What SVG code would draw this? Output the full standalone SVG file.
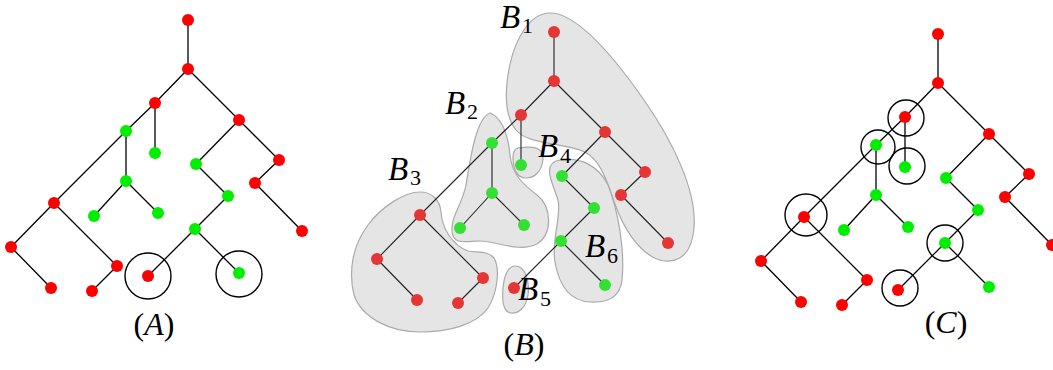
<svg xmlns="http://www.w3.org/2000/svg" width="1053" height="370" viewBox="0 0 1053 370">
<defs>
<style>
.e line{stroke:#000;stroke-width:1.3;stroke-linecap:round}
.eb line{stroke:#222;stroke-width:1.1;stroke-linecap:round}
.r{fill:#ff0000}
.g{fill:#00ee00}
.rb{fill:#e53535}
.gb{fill:#35e035}
.ring{fill:none;stroke:#000;stroke-width:1.4}
.blob{fill:#e5e5e5;stroke:#aaaaaa;stroke-width:1.2}
.lbl{font-family:"Liberation Serif","Times New Roman",serif;font-size:32px;fill:#000}
.bl{font-size:33px}
.it{font-style:italic}
.sub{font-size:22px;font-style:normal}
</style>
</defs>
<rect width="1053" height="370" fill="#fff"/>

<!-- Panel B blobs -->
<g id="blobs">
<path id="blob-B1" class="blob" d="M550,13 C578,13 614,57 644,100 C674,143 697,192 694,228 C692,250 683,262 665,261 C645,259 628,236 618,212 C608,186 603,162 585,152 C562,142 528,145 516,130 C504,115 505,88 510,64 C516,38 530,13 550,13 Z"/>
<path id="blob-B2" class="blob" d="M490,113 C502,118 508,135 510,155 C512,175 524,185 537,195 C552,207 553,234 537,244 C518,253 497,241 480,241 C467,241 453,246 452,231 C451,216 462,205 466,185 C470,160 476,118 490,113 Z"/>
<path id="blob-B3" class="blob" d="M420,192 C432,192 440,200 441,212 C442,228 452,245 468,251 C478,253 487,250 494,258 C500,268 498,292 488,308 C476,325 448,332 420,332 C390,332 362,318 354,295 C348,270 353,245 368,225 C382,206 405,192 420,192 Z"/>
<path id="blob-B4" class="blob" d="M518,148 C530,146 544,146 543,159 C542,171 535,178 526,178 C516,178 513,167 513,158 C513,152 514,149 518,148 Z"/>
<path id="blob-B5" class="blob" d="M515,266 C525,266 530,280 528,295 C526,308 518,314 511,313 C503,312 502,300 503,288 C504,276 508,266 515,266 Z"/>
<path id="blob-B6" class="blob" d="M560,160 C580,157 598,165 608,185 C618,210 625,250 622,280 C620,298 606,303 590,302 C570,301 559,285 555,262 C551,240 562,215 558,200 C554,186 540,163 560,160 Z"/>
</g>

<!-- Panel A -->
<g id="panelA">
<g id="edgesA" class="e">
<line x1="188" y1="20" x2="188" y2="69"/><line x1="188" y1="69" x2="155" y2="103"/><line x1="188" y1="69" x2="239" y2="120"/>
<line x1="155" y1="103" x2="126" y2="131"/><line x1="155" y1="103" x2="155" y2="153"/><line x1="126" y1="131" x2="126" y2="181"/>
<line x1="126" y1="131" x2="54" y2="203"/><line x1="126" y1="181" x2="94" y2="216"/><line x1="126" y1="181" x2="158" y2="213"/>
<line x1="54" y1="203" x2="11" y2="247"/><line x1="54" y1="203" x2="117" y2="266"/><line x1="11" y1="247" x2="51" y2="288"/>
<line x1="117" y1="266" x2="92" y2="291"/><line x1="239" y1="120" x2="196" y2="164"/><line x1="239" y1="120" x2="279" y2="160"/>
<line x1="196" y1="164" x2="228" y2="196"/><line x1="279" y1="160" x2="255" y2="183"/><line x1="255" y1="183" x2="302" y2="231"/>
<line x1="228" y1="196" x2="195" y2="229"/><line x1="195" y1="229" x2="148" y2="276"/><line x1="195" y1="229" x2="239" y2="273"/>
</g>
<g id="a1"><circle class="r" cx="188" cy="20" r="6"/></g>
<g id="a2"><circle class="r" cx="188" cy="69" r="6"/></g>
<g id="a3"><circle class="r" cx="155" cy="103" r="6"/></g>
<g id="a4"><circle class="g" cx="126" cy="131" r="6"/></g>
<g id="a5"><circle class="g" cx="155" cy="153" r="6"/></g>
<g id="a6"><circle class="r" cx="239" cy="120" r="6"/></g>
<g id="a7"><circle class="g" cx="196" cy="164" r="6"/></g>
<g id="a8"><circle class="r" cx="279" cy="160" r="6"/></g>
<g id="a9"><circle class="r" cx="255" cy="183" r="6"/></g>
<g id="a10"><circle class="g" cx="126" cy="181" r="6"/></g>
<g id="a11"><circle class="g" cx="228" cy="196" r="6"/></g>
<g id="a12"><circle class="r" cx="54" cy="203" r="6"/></g>
<g id="a13"><circle class="g" cx="94" cy="216" r="6"/></g>
<g id="a14"><circle class="g" cx="158" cy="213" r="6"/></g>
<g id="a15"><circle class="r" cx="302" cy="231" r="6"/></g>
<g id="a16"><circle class="g" cx="195" cy="229" r="6"/></g>
<g id="a17"><circle class="r" cx="11" cy="247" r="6"/></g>
<g id="a18"><circle class="r" cx="51" cy="288" r="6"/></g>
<g id="a19"><circle class="r" cx="117" cy="266" r="6"/></g>
<g id="a20"><circle class="r" cx="92" cy="291" r="6"/></g>
<g id="a21"><circle class="r" cx="148" cy="276" r="6"/><circle class="ring" cx="148" cy="276" r="23"/></g>
<g id="a22"><circle class="g" cx="239" cy="273" r="6"/><circle class="ring" cx="239" cy="274" r="23"/></g>
<text class="lbl" x="154" y="335" text-anchor="middle">(<tspan class="it">A</tspan>)</text>
</g>

<!-- Panel B -->
<g id="panelB">
<g id="edgesB" class="eb">
<line x1="554" y1="32" x2="554" y2="81"/><line x1="554" y1="81" x2="521" y2="115"/><line x1="554" y1="81" x2="605" y2="132"/>
<line x1="521" y1="115" x2="492" y2="143"/><line x1="521" y1="115" x2="521" y2="165"/><line x1="492" y1="143" x2="492" y2="193"/>
<line x1="492" y1="143" x2="420" y2="215"/><line x1="492" y1="193" x2="460" y2="228"/><line x1="492" y1="193" x2="524" y2="225"/>
<line x1="420" y1="215" x2="377" y2="259"/><line x1="420" y1="215" x2="483" y2="278"/><line x1="377" y1="259" x2="417" y2="300"/>
<line x1="483" y1="278" x2="458" y2="303"/><line x1="605" y1="132" x2="562" y2="176"/><line x1="605" y1="132" x2="645" y2="172"/>
<line x1="562" y1="176" x2="594" y2="208"/><line x1="645" y1="172" x2="621" y2="195"/><line x1="621" y1="195" x2="668" y2="243"/>
<line x1="594" y1="208" x2="561" y2="241"/><line x1="561" y1="241" x2="514" y2="288"/><line x1="561" y1="241" x2="605" y2="285"/>
</g>
<g id="b1"><circle class="rb" cx="554" cy="32" r="6"/></g>
<g id="b2"><circle class="rb" cx="554" cy="81" r="6"/></g>
<g id="b3"><circle class="rb" cx="521" cy="115" r="6"/></g>
<g id="b4"><circle class="gb" cx="492" cy="143" r="6"/></g>
<g id="b5"><circle class="gb" cx="521" cy="165" r="6"/></g>
<g id="b6"><circle class="rb" cx="605" cy="132" r="6"/></g>
<g id="b7"><circle class="gb" cx="562" cy="176" r="6"/></g>
<g id="b8"><circle class="rb" cx="645" cy="172" r="6"/></g>
<g id="b9"><circle class="rb" cx="621" cy="195" r="6"/></g>
<g id="b10"><circle class="gb" cx="492" cy="193" r="6"/></g>
<g id="b11"><circle class="gb" cx="594" cy="208" r="6"/></g>
<g id="b12"><circle class="rb" cx="420" cy="215" r="6"/></g>
<g id="b13"><circle class="gb" cx="460" cy="228" r="6"/></g>
<g id="b14"><circle class="gb" cx="524" cy="225" r="6"/></g>
<g id="b15"><circle class="rb" cx="668" cy="243" r="6"/></g>
<g id="b16"><circle class="gb" cx="561" cy="241" r="6"/></g>
<g id="b17"><circle class="rb" cx="377" cy="259" r="6"/></g>
<g id="b18"><circle class="rb" cx="417" cy="300" r="6"/></g>
<g id="b19"><circle class="rb" cx="483" cy="278" r="6"/></g>
<g id="b20"><circle class="rb" cx="458" cy="303" r="6"/></g>
<g id="b21"><circle class="rb" cx="514" cy="288" r="6"/></g>
<g id="b22"><circle class="gb" cx="605" cy="285" r="6"/></g>
<g id="labelsB">
<text class="lbl bl it" x="500" y="28">B<tspan class="sub" x="522" y="33">1</tspan></text>
<text class="lbl bl it" x="445" y="114">B<tspan class="sub" x="467" y="119">2</tspan></text>
<text class="lbl bl it" x="388" y="180">B<tspan class="sub" x="410" y="185">3</tspan></text>
<text class="lbl bl it" x="538" y="157">B<tspan class="sub" x="560" y="163">4</tspan></text>
<text class="lbl bl it" x="518" y="300">B<tspan class="sub" x="540" y="306">5</tspan></text>
<text class="lbl bl it" x="585" y="257">B<tspan class="sub" x="607" y="263">6</tspan></text>
</g>
<text class="lbl" x="524" y="355" text-anchor="middle">(<tspan class="it">B</tspan>)</text>
</g>

<!-- Panel C -->
<g id="panelC">
<g id="edgesC" class="e">
<line x1="938" y1="34" x2="938" y2="83"/><line x1="938" y1="83" x2="905" y2="117"/><line x1="938" y1="83" x2="989" y2="134"/>
<line x1="905" y1="117" x2="876" y2="145"/><line x1="905" y1="117" x2="905" y2="167"/><line x1="876" y1="145" x2="876" y2="195"/>
<line x1="876" y1="145" x2="804" y2="217"/><line x1="876" y1="195" x2="844" y2="230"/><line x1="876" y1="195" x2="908" y2="227"/>
<line x1="804" y1="217" x2="761" y2="261"/><line x1="804" y1="217" x2="867" y2="280"/><line x1="761" y1="261" x2="801" y2="302"/>
<line x1="867" y1="280" x2="842" y2="305"/><line x1="989" y1="134" x2="946" y2="178"/><line x1="989" y1="134" x2="1029" y2="174"/>
<line x1="946" y1="178" x2="978" y2="210"/><line x1="1029" y1="174" x2="1005" y2="197"/><line x1="1005" y1="197" x2="1052" y2="245"/>
<line x1="978" y1="210" x2="945" y2="243"/><line x1="945" y1="243" x2="898" y2="290"/><line x1="945" y1="243" x2="989" y2="287"/>
</g>
<g id="c1"><circle class="r" cx="938" cy="34" r="6"/></g>
<g id="c2"><circle class="r" cx="938" cy="83" r="6"/></g>
<g id="c3"><circle class="r" cx="905" cy="117" r="6"/><circle class="ring" cx="906" cy="118" r="18"/></g>
<g id="c4"><circle class="g" cx="876" cy="145" r="6"/><circle class="ring" cx="878" cy="147" r="17"/></g>
<g id="c5"><circle class="g" cx="905" cy="167" r="6"/><circle class="ring" cx="907" cy="166" r="18"/></g>
<g id="c6"><circle class="r" cx="989" cy="134" r="6"/></g>
<g id="c7"><circle class="g" cx="946" cy="178" r="6"/></g>
<g id="c8"><circle class="r" cx="1029" cy="174" r="6"/></g>
<g id="c9"><circle class="r" cx="1005" cy="197" r="6"/></g>
<g id="c10"><circle class="g" cx="876" cy="195" r="6"/></g>
<g id="c11"><circle class="g" cx="978" cy="210" r="6"/></g>
<g id="c12"><circle class="r" cx="804" cy="217" r="6"/><circle class="ring" cx="806" cy="215" r="21"/></g>
<g id="c13"><circle class="g" cx="844" cy="230" r="6"/></g>
<g id="c14"><circle class="g" cx="908" cy="227" r="6"/></g>
<g id="c15"><circle class="r" cx="1052" cy="245" r="6"/></g>
<g id="c16"><circle class="g" cx="945" cy="243" r="6"/><circle class="ring" cx="945" cy="243" r="18"/></g>
<g id="c17"><circle class="r" cx="761" cy="261" r="6"/></g>
<g id="c18"><circle class="r" cx="801" cy="302" r="6"/></g>
<g id="c19"><circle class="r" cx="867" cy="280" r="6"/></g>
<g id="c20"><circle class="r" cx="842" cy="305" r="6"/></g>
<g id="c21"><circle class="r" cx="898" cy="290" r="6"/><circle class="ring" cx="900" cy="288" r="18"/></g>
<g id="c22"><circle class="g" cx="989" cy="287" r="6"/></g>
<text class="lbl" x="946" y="333" text-anchor="middle">(<tspan class="it">C</tspan>)</text>
</g>
</svg>
